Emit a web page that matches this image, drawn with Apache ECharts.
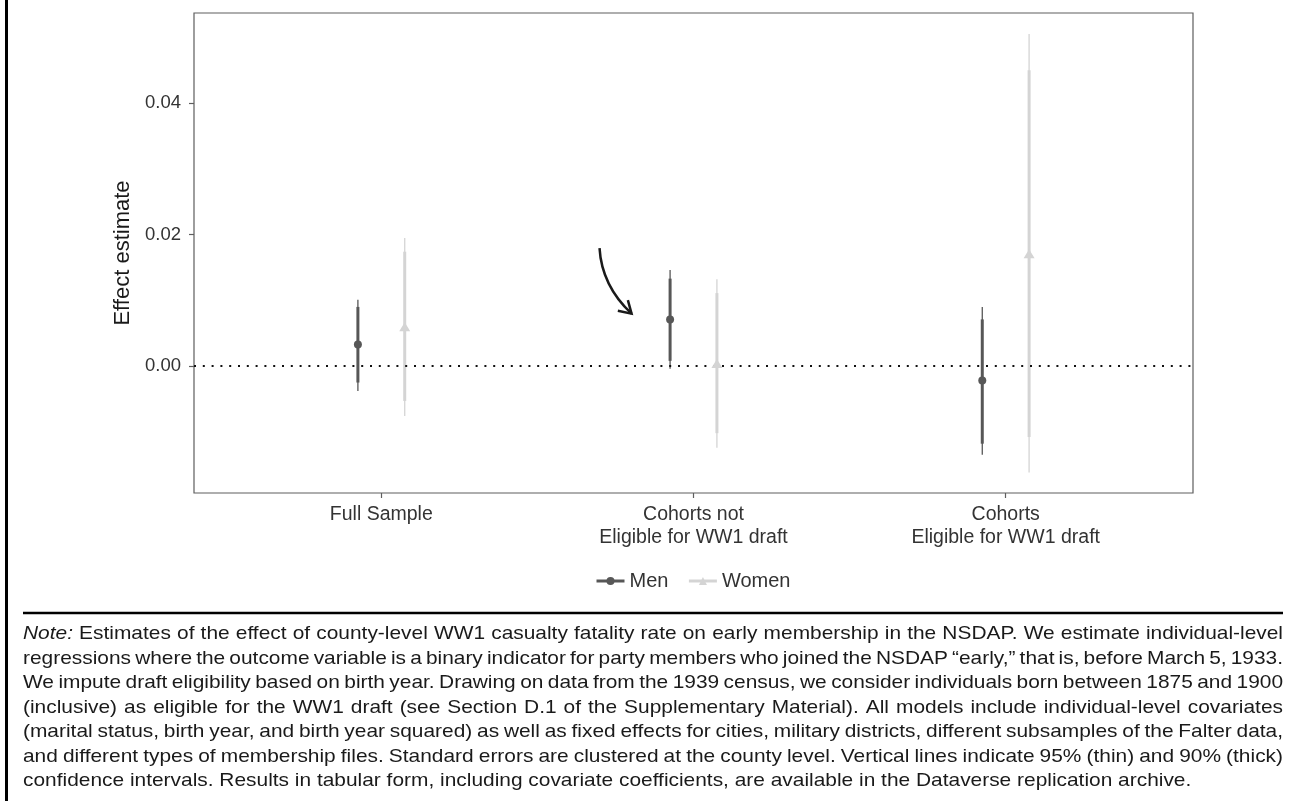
<!DOCTYPE html>
<html lang="en">
<head>
<meta charset="UTF-8">
<title>WW1 casualties and early NSDAP membership</title>
<script src="https://cdn.jsdelivr.net/npm/echarts@6/dist/echarts.min.js"></script>
<style>
  html, body { margin: 0; padding: 0; background: #fff; }
  #container { width: 1297px; height: 801px; }
</style>
</head>
<body>
<div id="container"></div>
<script>
// categories on the x axis
const categories = ['Full Sample', 'Cohorts not\nEligible for WW1 draft', 'Cohorts\nEligible for WW1 draft'];
const yTicks = [0, 0.02, 0.04];

// men: point estimate, 90% (thick) and 95% (thin) intervals
const menEst = [0.0033, 0.0071, -0.0022];
const men90Lo = [-0.0025, 0.0008, -0.0118];
const men90Hi = [0.0090, 0.0133, 0.0071];
const men95Lo = [-0.0038, -0.0004, -0.0135];
const men95Hi = [0.0101, 0.0146, 0.0090];

// women
const womenEst = [0.0060, 0.0004, 0.0171];
const women90Lo = [-0.0053, -0.0102, -0.0108];
const women90Hi = [0.0174, 0.0111, 0.0450];
const women95Lo = [-0.0076, -0.0124, -0.0162];
const women95Hi = [0.0195, 0.0132, 0.0505];

// caption under the chart, one entry per printed line
const noteLines = [
  'Note: Estimates of the effect of county-level WW1 casualty fatality rate on early membership in the NSDAP. We estimate individual-level',
  'regressions where the outcome variable is a binary indicator for party members who joined the NSDAP \u201cearly,\u201d that is, before March 5, 1933.',
  'We impute draft eligibility based on birth year. Drawing on data from the 1939 census, we consider individuals born between 1875 and 1900',
  '(inclusive) as eligible for the WW1 draft (see Section D.1 of the Supplementary Material). All models include individual-level covariates',
  '(marital status, birth year, and birth year squared) as well as fixed effects for cities, military districts, different subsamples of the Falter data,',
  'and different types of membership files. Standard errors are clustered at the county level. Vertical lines indicate 95% (thin) and 90% (thick)',
  'confidence intervals. Results in tabular form, including covariate coefficients, are available in the Dataverse replication archive.'
];

const FONT = '"Liberation Sans", Arial, Helvetica, sans-serif';
const MEN_COLOR = '#575757';
const WOMEN_COLOR = '#d4d4d4';
const DODGE = 0.075;

const points = (est, shift) => est.map((v, i) => [i + shift, v]);
const intervals = (lo95, hi95, lo90, hi90, shift) =>
  lo95.map((v, i) => [i + shift, v, hi95[i], lo90[i], hi90[i]]);

// thin 95% line + thick 90% line
function renderCI(color) {
  return function (params, api) {
    const x = api.value(0);
    const a = api.coord([x, api.value(1)]);
    const b = api.coord([x, api.value(2)]);
    const c = api.coord([x, api.value(3)]);
    const d = api.coord([x, api.value(4)]);
    return {
      type: 'group',
      children: [
        { type: 'line', shape: { x1: a[0], y1: a[1], x2: b[0], y2: b[1] }, style: { stroke: color, lineWidth: 1.3 } },
        { type: 'line', shape: { x1: c[0], y1: c[1], x2: d[0], y2: d[1] }, style: { stroke: color, lineWidth: 3 } }
      ]
    };
  };
}

// justified caption, word by word (the printed face is wider than Arial, hence scaleX)
function noteGraphics() {
  const left = 23, width = 1260, top = 634, lh = 24.5, size = 19, sx = 1.1;
  const ctx = document.createElement('canvas').getContext('2d');
  const out = [];
  noteLines.forEach((line, li) => {
    const words = line.split(' ');
    const styles = words.map((w, wi) => (li === 0 && wi === 0 ? 'italic' : 'normal'));
    const widths = words.map((w, wi) => {
      ctx.font = styles[wi] + ' ' + size + 'px ' + FONT;
      return ctx.measureText(w).width * sx;
    });
    ctx.font = size + 'px ' + FONT;
    const total = widths.reduce((s, w) => s + w, 0);
    const last = li === noteLines.length - 1;
    const gap = last ? ctx.measureText(' ').width * sx : (width - total) / (words.length - 1);
    let x = left;
    words.forEach((w, wi) => {
      out.push({
        type: 'text', x: x, y: top + li * lh, scaleX: sx, silent: true,
        style: { text: w, fontSize: size, fontFamily: FONT, fontStyle: styles[wi], fill: '#1a1a1a', align: 'left', verticalAlign: 'middle' }
      });
      x += widths[wi] + gap;
    });
  });
  return out;
}

const chart = echarts.init(document.getElementById('container'));

chart.setOption({
  animation: false,
  backgroundColor: '#fff',
  grid: {
    left: 194, top: 13, right: 104, bottom: 308,
    show: true, borderColor: '#5e5e5e', borderWidth: 1.2,
    containLabel: false, outerBoundsMode: 'none'
  },
  legend: {
    left: 595, top: 571, padding: 0,
    itemWidth: 28, itemHeight: 10, itemGap: 19,
    textStyle: { fontSize: 20, fontFamily: FONT, color: '#333', lineHeight: 20 },
    data: [
      { name: 'Men', lineStyle: { width: 3, opacity: 1, color: MEN_COLOR } },
      { name: 'Women', lineStyle: { width: 3, opacity: 1, color: WOMEN_COLOR } }
    ]
  },
  xAxis: {
    type: 'value', min: -0.6, max: 2.6,
    axisLine: { show: false, onZero: false },
    splitLine: { show: false },
    axisTick: { show: true, customValues: [0, 1, 2], length: 5, lineStyle: { color: '#5e5e5e', width: 1.2 } },
    axisLabel: {
      customValues: [0, 1, 2],
      formatter: v => categories[Math.round(v)],
      margin: 10, fontSize: 19.5, lineHeight: 23, fontFamily: FONT, color: '#333'
    }
  },
  yAxis: {
    type: 'value', min: -0.0193, max: 0.0537,
    name: 'Effect estimate', nameLocation: 'middle', nameGap: 56,
    nameTextStyle: { fontSize: 22, fontFamily: FONT, color: '#1a1a1a' },
    axisLine: { show: false, onZero: false },
    splitLine: { show: false },
    axisTick: { show: true, customValues: yTicks, length: 5, lineStyle: { color: '#5e5e5e', width: 1.2 } },
    axisLabel: {
      customValues: yTicks,
      formatter: v => v.toFixed(2),
      margin: 13, fontSize: 18.5, fontFamily: FONT, color: '#333'
    }
  },
  series: [
    {
      name: 'Men', type: 'line', silent: true, z: 5,
      data: points(menEst, -DODGE),
      symbol: 'circle', symbolSize: 8,
      itemStyle: { color: MEN_COLOR },
      lineStyle: { width: 0, opacity: 0, color: MEN_COLOR },
      markLine: {
        silent: true, symbol: 'none', label: { show: false },
        lineStyle: { color: '#111', width: 2, type: [2, 6.8] },
        data: [{ yAxis: 0 }]
      }
    },
    {
      name: 'Women', type: 'line', silent: true, z: 5,
      data: points(womenEst, DODGE),
      symbol: 'triangle', symbolSize: [11, 9],
      itemStyle: { color: WOMEN_COLOR },
      lineStyle: { width: 0, opacity: 0, color: WOMEN_COLOR }
    },
    {
      name: 'Men', type: 'custom', silent: true, z: 3,
      renderItem: renderCI(MEN_COLOR),
      encode: { x: 0, y: [1, 2, 3, 4] },
      data: intervals(men95Lo, men95Hi, men90Lo, men90Hi, -DODGE)
    },
    {
      name: 'Women', type: 'custom', silent: true, z: 3,
      renderItem: renderCI(WOMEN_COLOR),
      encode: { x: 0, y: [1, 2, 3, 4] },
      data: intervals(women95Lo, women95Hi, women90Lo, women90Hi, DODGE)
    }
  ]
});

// hand-drawn arrow pointing at the men estimate of the middle group
const toPx = p => chart.convertToPixel({ gridIndex: 0 }, p);
const aStart = toPx([0.699, 0.01795]);
const aCtrl = toPx([0.706, 0.01224]);
const aEnd = toPx([0.8016, 0.00798]);
const ang = Math.atan2(aEnd[1] - aCtrl[1], aEnd[0] - aCtrl[0]);
const head = [-1, 1].map(s => [
  aEnd[0] - 14 * Math.cos(ang + s * 0.55),
  aEnd[1] - 14 * Math.sin(ang + s * 0.55)
]);

chart.setOption({
  graphic: [
    { type: 'line', silent: true, shape: { x1: 6.5, y1: 0, x2: 6.5, y2: 801 }, style: { stroke: '#000', lineWidth: 3 } },
    { type: 'line', silent: true, shape: { x1: 23, y1: 613, x2: 1283, y2: 613 }, style: { stroke: '#000', lineWidth: 2.5 } },
    {
      type: 'bezierCurve', silent: true,
      shape: { x1: aStart[0], y1: aStart[1], cpx1: aCtrl[0], cpy1: aCtrl[1], x2: aEnd[0], y2: aEnd[1] },
      style: { stroke: '#1a1a1a', lineWidth: 2.5, fill: null }
    },
    {
      type: 'polyline', silent: true,
      shape: { points: [head[0], aEnd, head[1]] },
      style: { stroke: '#1a1a1a', lineWidth: 2.5, fill: null, lineJoin: 'miter' }
    }
  ].concat(noteGraphics())
});
</script>
</body>
</html>
